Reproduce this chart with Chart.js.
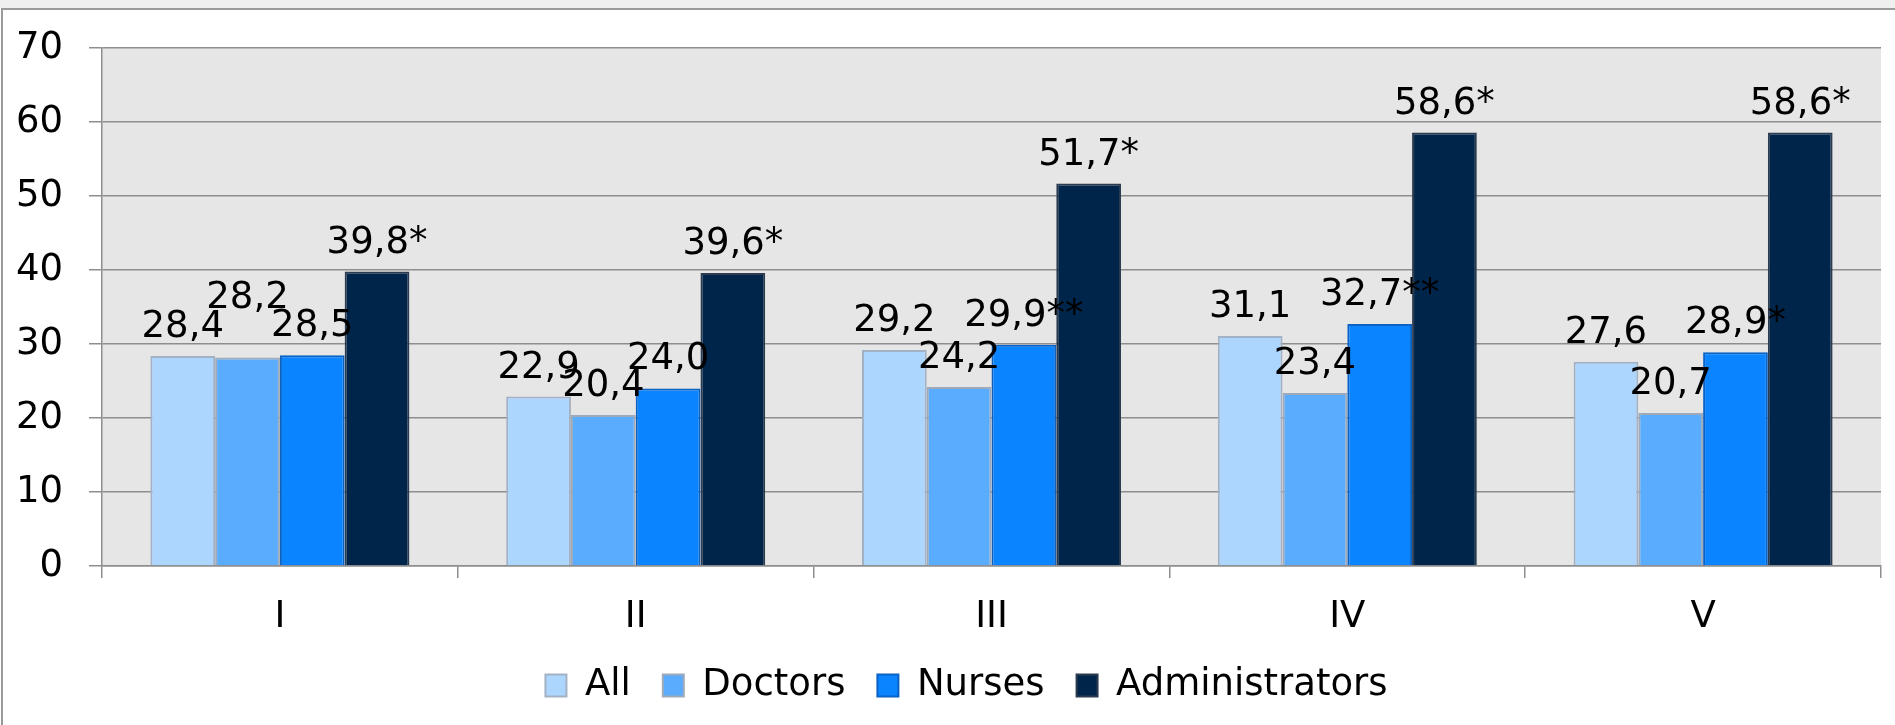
<!DOCTYPE html>
<html>
<head>
<meta charset="UTF-8">
<title>Groups I-V</title>
<script src="https://cdn.jsdelivr.net/npm/chart.js"></script>
<style>
  html, body { margin: 0; padding: 0; background: #fff; }
  body { width: 1895px; height: 725px; overflow: hidden; position: relative; }
  .topband { position: absolute; left: 0; top: 0; width: 1895px; height: 8px; background: #efefef; }
  .frame { position: absolute; left: 1px; top: 8px; width: 1894px; height: 717px; border-top: 2px solid #9a9a9a; border-left: 2px solid #9a9a9a; box-sizing: border-box; }
  .wrap { position: absolute; left: 0; top: 0; width: 1895px; height: 725px; }
</style>
</head>
<body>
<div class="topband"></div>
<div class="frame"></div>
<div class="wrap"><canvas id="chart"></canvas></div>
<script>
const groups = ['I', 'II', 'III', 'IV', 'V'];
const allStaff = [28.4, 22.9, 29.2, 31.1, 27.6];
const doctors = [28.2, 20.4, 24.2, 23.4, 20.7];
const nurses = [28.5, 24.0, 29.9, 32.7, 28.9];
const administrators = [39.8, 39.6, 51.7, 58.6, 58.6];
// significance marks printed after the value
const nursesMarks = ['', '', '**', '**', '*'];
const adminMarks = ['*', '*', '*', '*', '*'];
const yMin = 0, yMax = 70, yStep = 10;

const FONT = '"DejaVu Sans", Verdana, sans-serif';
const SIZE = 37;
const GRID = '#8e8e8e';

// grey plot area
const plotBackground = {
  id: 'plotBackground',
  beforeDraw(chart) {
    const { ctx, chartArea: a } = chart;
    ctx.save();
    ctx.fillStyle = '#e6e6e6';
    ctx.fillRect(a.left, a.top, a.right - a.left, a.bottom - a.top);
    ctx.restore();
  }
};

// value labels above the bars, pushed up when they sit on top of a neighbour
const valueLabels = {
  id: 'valueLabels',
  afterDatasetsDraw(chart) {
    const ctx = chart.ctx;
    const textH = 28;
    ctx.save();
    ctx.font = SIZE + 'px ' + FONT;
    ctx.fillStyle = '#000';
    ctx.textAlign = 'center';
    ctx.textBaseline = 'alphabetic';
    groups.forEach((g, i) => {
      const placed = [];
      chart.data.datasets.forEach((ds, d) => {
        const bar = chart.getDatasetMeta(d).data[i];
        const text = ds.data[i].toFixed(1).replace('.', ',') + (ds.marks ? ds.marks[i] : '');
        const w = ctx.measureText(text).width;
        let base = bar.y - 19;
        for (const p of placed) {
          const hOver = Math.min(bar.x + w / 2, p.x + p.w / 2) - Math.max(bar.x - w / 2, p.x - p.w / 2);
          const vOver = textH - Math.abs(base - p.base);
          if (hOver > 0 && vOver > textH * 0.6) base = p.base - 29;
        }
        placed.push({ x: bar.x, w: w, base: base });
        ctx.fillText(text, bar.x, base);
      });
    });
    ctx.restore();
  }
};

// fixed legend height so the plot keeps its size, legend nudged right
const legendPlace = {
  id: 'legendPlace',
  beforeInit(chart) {
    if (!chart.legend) return;
    const fit = chart.legend.fit;
    chart.legend.fit = function () {
      fit.call(this);
      this.height = 90;
    };
  },
  afterLayout(chart) {
    if (!chart.legend) return;
    chart.legend.left += 26;
    chart.legend.right += 26;
  }
};

const ctx = document.getElementById('chart').getContext('2d');
new Chart(ctx, {
  type: 'bar',
  data: {
    labels: groups,
    datasets: [
      { label: 'All', data: allStaff, backgroundColor: '#add6ff', borderColor: '#a2b2c4', borderWidth: 2 },
      { label: 'Doctors', data: doctors, backgroundColor: '#5aacff', borderColor: '#9eaaba', borderWidth: 2 },
      { label: 'Nurses', data: nurses, marks: nursesMarks, backgroundColor: '#0a84ff', borderColor: '#0a62c4', borderWidth: 2 },
      { label: 'Administrators', data: administrators, marks: adminMarks, backgroundColor: '#00254a', borderColor: '#2c3c50', borderWidth: 2 }
    ]
  },
  options: {
    responsive: true,
    maintainAspectRatio: false,
    animation: false,
    devicePixelRatio: 1,
    layout: { padding: { top: 45, right: 14, bottom: 0, left: 0 } },
    datasets: {
      bar: { categoryPercentage: 0.728, barPercentage: 1 }
    },
    scales: {
      x: {
        grid: { drawOnChartArea: false, drawTicks: true, tickLength: 12, color: GRID, lineWidth: 1.5 },
        border: { display: true, color: GRID, width: 1.5 },
        ticks: { color: '#000', padding: 17, font: { family: FONT, size: SIZE, lineHeight: 1.2 } },
        afterFit(scale) { scale.height = 69; }
      },
      y: {
        min: yMin,
        max: yMax,
        grid: { color: GRID, lineWidth: 1.5, tickLength: 13 },
        border: { display: true, color: GRID, width: 1.5 },
        ticks: { stepSize: yStep, color: '#000', padding: 26, font: { family: FONT, size: SIZE } },
        afterFit(scale) { scale.width = 102; }
      }
    },
    plugins: {
      legend: {
        position: 'bottom',
        labels: {
          color: '#000',
          boxWidth: 21,
          boxHeight: 22,
          padding: 32,
          font: { family: FONT, size: SIZE }
        }
      },
      tooltip: { enabled: false }
    }
  },
  plugins: [plotBackground, valueLabels, legendPlace]
});
</script>
</body>
</html>
